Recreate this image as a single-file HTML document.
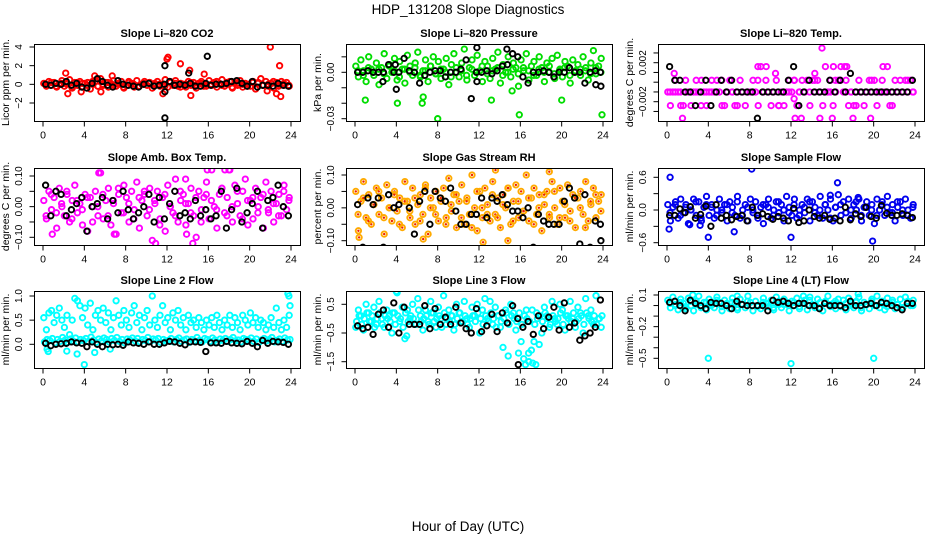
<!DOCTYPE html>
<html><head><meta charset="utf-8"><style>
html,body{margin:0;padding:0;background:#fff;}
svg{display:block;font-family:"Liberation Sans",Arial,sans-serif;}
</style></head><body>
<svg id="chart" width="936" height="540" viewBox="0 0 936 540" xmlns="http://www.w3.org/2000/svg">
<rect width="936" height="540" fill="#fff"/>
<text x="468" y="14" text-anchor="middle" font-size="13.5">HDP_131208  Slope Diagnostics</text>
<text x="468" y="531" text-anchor="middle" font-size="13.5">Hour of Day (UTC)</text>
</svg>
<script>
// ---- data ----
const xTicks = [0,4,8,12,16,20,24];

const co2Col = [.1,-.2,.3,-.1,.2,-.3,.0,.4,-.2,.1,.5,-.4,.2,-.1,.3,-.3,.1,.2,-.5,.0,.3,-.2,.6,-.1,.2,-.3,.1,.4,-.2,.0,.3,-.4,-.1,.2,.1,-.3,.4,-.2,.0,.3,-.1,.2,-.4,.1,.3,-.2,.0,.5,-.3,.2,-.1,.4,-.2,.1,.0,-.3,.3,-.1,.2,-.4,.1,.3,-.2,.0,.4,-.1,.2,-.3,.1,.5,-.2,.0,.3,-.4,.2,-.1,.4,-.3,.1,.0,-.2,.3,-.5,.2,.6,-.1,.3,-.2,.1,-.4,.2,.0,.3,-.1,.2,-.2];
const co2Band = [-.1,.2,-.2,.1,.0,-.3,.2,.1,-.1,.3,-.2,.0,.2,-.1,.1,-.3,.3,.0,-.2,.1,.2,-.1,.0,-.2,.3,.1,-.3,.0,.2,-.1,.1,-.2,.0,.3,-.1,.2,-.3,.1,.0,-.2,.2,.1,-.1,.0,.3,-.2,.1,-.1];
const co2Out = [[2.2,1.2],[2.4,-1],[12,2.7],[12.1,2.9],[13.3,2.2],[14.2,1.5],[14.3,-1.2],[15.6,1.1],[22,4],[22.9,2],[23,-1.3],[22.6,-1],[11.6,-1],[5,.9],[6.7,.9],[3.7,-.8],[5.6,-.8],[21.7,-.7]];
const co2Blk = [0,-.1,.1,.0,.3,-.1,.1,-.3,-.4,.1,.6,.3,-.1,-.3,.4,.0,-.1,-.2,-.3,.0,.1,-.2,-.1,.0,.3,-.1,.0,-.1,.1,-.2,-.2,.1,-.1,.0,.0,.1,.3,.4,.1,-.2,.3,-.3,-.1,-.1,-.2,.1,-.1,-.2];
const co2BlkOut = [[11.8,2],[11.8,-.8],[11.8,-3.6],[14.1,1.2],[15.9,3]];

const presCol = [.004,-.003,.008,.001,-.006,.010,.002,-.002,.006,-.008,.003,.012,-.004,.005,.000,.009,-.005,.007,.002,-.007,.011,.004,-.002,.006,.013,-.003,.001,.008,-.006,.004,.010,-.001,.007,-.004,.002,.009,-.008,.005,.012,.000,-.003,.006,.015,-.005,.003,.008,-.002,.011,.001,-.006,.007,.004,-.004,.009,.002,.013,-.007,.005,.000,.010,-.003,.006,.003,-.009,.008,.001,.012,-.005,.004,.007,-.002,.010,.003,-.006,.006,.000,.009,-.004,.011,.002,-.003,.007,.004,-.007,.008,.001,.005,-.002,.010,.003,-.005,.006,.014,-.001,.004,.009];
const presBand = [.001,-.002,.003,.000,.002,-.001,.004,.001,-.003,.002,.000,.003,-.002,.001,.004,-.001,.002,.000,-.003,.003,.001,-.002,.002,.000,.004,-.001,.001,.003,-.002,.000,.002,-.001,.003,.001,-.002,.002,.000,.004,-.001,.001,.003,-.002,.000,.002,.001,-.001,.003,.000];
const presOut = [[1,-.018],[4.1,-.020],[8,-.03],[11,.024],[15.9,-.0275],[23.9,-.0275],[6.6,-.016],[6.5,-.02],[13.2,-.018],[20,-.018],[22.7,.021],[17.3,.020],[15.2,-.012]];
const presBlk = [0,0,.001,0,0,0,.005,0,0,.009,.001,0,-.007,-.002,0,.001,.001,-.003,0,0,.002,.008,-.017,0,0,.001,-.001,.001,.004,.005,.012,.01,-.003,-.007,0,0,.001,0,-.003,0,0,.003,0,0,-.007,0,.001,0];
const presBlkOut = [[4,-.011],[2.7,-.006],[11.8,-.006],[23.3,-.008],[23.8,-.009],[3.9,.005],[14.7,.015],[11.8,.016]];

const tempCol = [-.001,-.0024,-.001,.0002,-.001,-.0024,-.0024,-.001,-.001,-.0024,-.001,.0002,-.001,.0002,-.001,-.0024,-.001,.0002,-.001,.0002,-.001,-.0024,-.0024,-.001,.0002,-.001,-.0024,-.001,.0002,-.001,-.0024,-.001,-.001,.0002,-.001,-.0024,.0016,-.001,.0002,-.001,-.0024,-.001,.0002,-.0024,-.001,-.0024,-.001,.0002,-.001,.0002,-.0024,-.001,.0002,-.001,.0002,-.0024,.0002,-.001,.0002,-.001,-.0024,.0016,-.001,.0002,-.0024,-.001,.0002,.0016,-.001,.0002,-.0024,-.001,-.0024,-.001,.0002,-.001,-.0024,-.001,.0002,-.001,.0002,-.0024,-.001,.0002,-.001,.0016,-.0024,-.001,.0002,-.001,.0002,-.001,.0002,-.001,.0002,-.001];
const tempBand = [-.001,-.001,-.001,.0002,-.001,-.001,-.0024,-.001,-.001,-.001,.0002,-.001,-.001,-.0024,-.001,-.001,-.001,.0002,-.001,-.001,-.001,-.0024,-.001,-.001,.0002,-.001,-.001,-.001,.0002,-.001,-.001,-.001,.0002,.0002,-.001,-.001,-.0024,-.001,-.001,.0002,-.001,-.001,-.001,-.0024,-.001,-.001,.0002,-.001];
const tempOut = [[15,.0035],[1.5,-.0037],[12.4,-.0037],[13,-.0037],[14.8,-.0037],[16,-.0037],[18,-.0037],[19.7,-.0037],[8.8,.0016],[9.6,.0016],[17.2,.0016],[17.4,.0016],[20.9,.0016],[16.1,.0016],[0.7,.0009],[10.5,.0009],[14.3,.0009],[12.3,-.0017]];
const tempBlk = [.0016,.0002,.0002,-.001,-.001,-.0024,-.001,.0002,-.0024,-.001,.0002,-.001,.0002,-.001,-.001,-.001,-.001,-.0037,-.001,-.001,-.001,-.001,-.001,.0002,.0016,-.0024,-.001,.0002,-.001,-.001,-.001,.0002,-.001,.0002,-.001,.0009,-.001,-.001,-.001,-.001,-.001,-.001,-.001,-.001,-.001,-.001,-.001,.0002];
const tempBlkOut = [];

const ambCol = [.02,-.04,.05,-.01,.03,-.07,.06,.00,-.03,.04,-.05,.02,.07,-.02,.01,-.06,.04,-.08,.03,.00,.05,-.03,.11,-.04,.02,.06,-.06,.01,-.09,.04,-.02,.07,.03,-.05,.05,-.01,.08,-.07,.02,.04,-.03,.06,-.11,.01,.05,-.04,.03,-.08,.07,.00,-.02,.09,-.05,.02,.04,-.06,.01,.06,-.03,-.10,.05,-.01,.03,.08,-.04,.12,.00,-.07,.04,.06,-.02,.03,.12,-.05,.07,.01,-.03,.05,.09,-.06,.02,-.04,.06,.00,.03,-.07,.08,-.02,.05,-.05,.01,.04,-.03,.07,-.01,.03];
const ambBand = [-.03,.04,-.02,.01,.05,-.04,.02,-.01,.03,-.05,.00,.04,-.03,.02,.06,-.02,.01,-.04,.03,.05,-.01,.02,-.06,.04,.00,-.03,.05,.01,-.02,.03,-.05,.04,.02,-.01,.06,-.03,.00,.05,-.04,.02,.03,-.02,.04,-.01,.01,-.03,.05,.02];
const ambOut = [[5.4,.11],[0.9,-.09],[10.9,-.12],[14.5,-.12],[15.9,.12],[17.6,.12],[18,.12],[13.8,.09],[13.9,-.09],[6.9,-.09]];
const ambBlk = [.07,-.03,.05,.04,-.03,-.01,.01,.03,-.08,.00,.01,.03,-.04,.02,-.02,.05,-.01,-.04,-.02,.00,.04,-.05,.03,-.04,.01,.05,-.03,-.02,-.04,.02,-.03,-.01,-.04,-.03,.05,-.07,-.01,.06,-.05,-.02,.01,.05,-.07,.02,.03,.07,.00,-.03];
const ambBlkOut = [];

const rhCol = [.05,-.07,.02,.08,-.03,.04,-.05,.01,.06,-.02,.03,-.08,.07,.00,-.04,.05,-.01,.03,-.06,.08,.02,-.03,.06,-.05,.01,.04,-.02,.07,-.08,.03,.00,.05,-.04,.02,.06,-.03,.09,-.01,.04,-.06,.02,.07,-.05,.03,-.02,.10,.00,-.07,.05,-.03,.06,.01,-.04,.08,-.02,.03,-.06,.04,.00,.06,-.05,.02,.07,-.03,.05,-.01,.10,-.04,.03,.06,-.02,.04,-.07,.01,.05,-.03,.08,.00,-.05,.06,.02,-.03,.07,-.01,.04,-.06,.03,.05,-.02,.08,-.04,.01,.06,-.03,.02,.04];
const rhBand = [-.02,.03,-.04,.01,.05,-.03,.00,.04,-.05,.02,-.01,.03,-.04,.06,.00,-.02,.03,-.05,.01,.04,-.03,.02,-.06,.05,.00,-.02,.04,-.03,.01,.06,-.04,.02,-.01,.03,-.05,.00,.04,-.02,.05,-.03,.01,-.04,.03,.00,-.06,.02,.04,-.01];
const rhOut = [[13.6,.115],[18.8,.11],[12.4,-.105],[14.8,-.1],[0.4,-.09],[6.6,-.095]];
const rhBlk = [.01,-.12,.03,.01,.03,-.12,.04,.00,.01,-.14,.00,-.08,.02,.05,-.05,.05,.03,.02,.06,-.01,-.05,-.05,-.02,-.02,.03,-.03,.03,.02,.04,.01,-.01,-.01,-.03,.00,-.12,-.02,-.04,-.05,-.05,-.05,.02,.06,.03,-.11,.04,-.12,-.04,-.05];
const rhBlkOut = [[23.8,-.14],[23.8,-.1]];

const sampCol = [.1,-.2,.05,.15,-.15,.2,-.05,.1,-.25,.0,.2,-.1,.15,-.2,.05,.25,-.1,.1,-.15,.0,.2,-.05,.1,-.2,.15,.05,-.1,.25,-.15,.0,.1,-.2,.2,-.05,.15,-.1,.05,-.25,.1,.2,-.15,.0,.15,-.05,.1,-.2,.25,.05,-.1,.2,-.15,.0,.1,-.05,.2,-.2,.15,.05,-.1,.25,-.15,.1,.0,.2,-.2,.05,.28,-.1,.15,-.05,.2,-.15,.1,.0,.2,-.2,.05,.15,-.1,.1,-.25,.2,.0,.15,-.1,.25,-.05,.1,-.2,.05,.15,-.1,.2,.0,-.15,.1];
const sampBand = [-.05,.1,-.1,.05,.0,.15,-.15,.1,.05,-.1,.0,.1,-.05,.15,-.1,.05,.0,-.15,.1,.05,-.1,.15,.0,-.05,.1,-.1,.05,.15,-.05,.0,.1,-.15,.05,.1,-.05,.0,.15,-.1,.05,.0,-.1,.1,.05,-.05,.15,.0,-.1,.05];
const sampOut = [[0.2,-.35],[0.3,.6],[8.2,.75],[16.5,.5],[4,-.5],[12,-.5],[19.9,-.57],[6.5,-.4],[3.2,-.28],[2.2,-.27],[18.5,.23],[15.8,.27]];
const sampBlk = [-.1,-.1,.02,-.05,.06,-.15,-.08,.07,-.3,.1,-.15,-.1,-.18,-.12,-.1,-.2,.05,-.1,-.07,-.12,-.17,-.12,-.15,-.2,.03,-.23,-.2,.0,-.12,-.15,-.1,-.17,-.15,-.2,.05,-.18,-.07,-.12,.05,-.12,-.15,.08,-.06,-.1,-.1,-.07,-.1,-.14];
const sampBlkOut = [];

const l2Col = [.55,.3,.65,.7,.45,.6,.75,.5,.35,.6,.2,.5,.95,.9,.8,.55,.75,.4,.85,.3,.6,.7,.5,.75,.45,.65,.3,.55,.9,.6,.4,.7,.5,.35,.65,.8,.45,.6,.3,.55,.7,.4,1.0,.5,.35,.6,.8,.45,.55,.3,.65,.5,.7,.4,.55,.3,.6,.45,.5,.35,.55,.45,.3,.5,.4,.55,.35,.6,.45,.3,.5,.4,.6,.35,.55,.45,.3,.6,.5,.4,.65,.45,.55,.35,.5,.45,.3,.4,.55,.35,.75,.45,.3,.5,.35,.6];
const l2Band = [.05,.1,.08,.12,.03,.1,.06,.14,.09,.04,.11,.07,.13,.05,.1,.08,.12,.06,.15,.09,.04,.11,.07,.13,.1,.05,.12,.08,.14,.06,.1,.03,.11,.09,.13,.07,.12,.05,.1,.08,.14,.06,.11,.09,.12,.04,.1,.07,.08,.12,.05,.1,.13,.06,.09,.11,.04,.1,.07,.14,.08,.05,.12,.1,.06,.13,.09,.04,.11,.08,.12,.06,.1,.14,.07,.09,.05,.12,.1,.08,.13,.06,.11,.04,.09,.12,.07,.1,.14,.05,.08,.11,.06,.13,.09,.1];
const l2Out = [[0.4,-.1],[0.5,-.15],[2.3,-.14],[3.3,-.2],[4.0,-.42],[5,-.17],[6.5,-.1],[23.7,1.05],[23.8,1.0],[23.9,.8]];
const l2Blk = [.02,-.03,.0,.01,.02,.05,.03,.02,-.05,.05,.0,-.05,.0,-.01,.0,-.02,.05,.03,.02,.0,.05,.0,.0,.03,.06,.05,.02,-.01,.05,.05,.04,-.15,.03,.03,.02,.06,.03,.02,.01,.06,.02,-.05,.08,.02,.06,.05,.04,.0];
const l2BlkOut = [];

const l3Col = [-.3,.3,.1,-.4,.5,.2,-.1,.4,-.2,.6,.0,-.3,.3,.1,-.5,.2,.9,-.1,.4,-.7,.3,.0,.5,-.2,.7,.1,-.4,.3,-.1,.6,.2,-.3,.4,.0,.8,-.2,.3,.1,-.4,.5,.2,-.1,.6,.0,-.3,.4,.1,.5,-.5,.3,.7,.0,.6,-.2,.4,.1,-.3,-1.0,.3,-1.3,.5,.2,-.4,-1.2,-.8,-1.4,.3,-1.5,-1.1,-.8,.2,-.9,-.5,.4,.1,-.3,.6,.0,-.2,.5,.3,-.4,.1,.6,.0,-.3,.4,.2,-.5,.7,.1,.3,-.2,.8,.0,-.3];
const l3Band = [-.1,.1,-.2,.0,.2,-.1,.1,-.3,.0,.2,-.2,.1,.0,-.1,.2,-.2,.1,.0,-.3,.2,-.1,.1,.0,-.2,.3,-.1,.0,.1,-.2,.2,-.1,.0,.1,-.3,.2,.0,-.1,.1,-.2,.0,.2,-.1,.1,-.2,.0,.1,-.1,.2,.0,-.2,.1,-.1,.2,.0,-.3,.1,-.1,.0,.2,-.2,.1,.0,-.1,.2,-.2,.1,.0,-.1,.3,-.2,.0,.1,-.1,.2,.0,-.2,.1,-.1,.0,.2,-.2,.1,.0,-.1,.2,-.1,.0,.1,-.2,.2,.0,-.1,.1,-.2,.0,.1];
const l3Out = [[4,.95],[5,-.6],[16.5,-1.6],[17.2,-1.55],[16.8,-1.2],[17.5,-1.6]];
const l3Blk = [-.25,-.35,-.3,-.55,.15,.3,-.3,.55,-.5,.4,-.2,-.2,-.2,.45,-.35,.35,-.2,.05,-.2,.4,-.15,-.35,-.5,.35,-.45,-.25,.15,-.45,.2,-.15,.45,.0,-.3,-.1,-.55,.1,-.35,.05,.4,-.4,.55,-.3,-.15,-.75,-.6,-.5,-.3,.65];
const l3BlkOut = [[15.8,-1.6]];

const l4Col = [.05,-.02,.08,.01,-.04,.06,.02,-.03,.07,.0,-.05,.04,.09,-.01,.03,-.04,.06,.01,-.02,.08,.03,-.05,.05,.0,-.03,.07,.02,-.04,.06,.01,-.02,.09,.03,-.05,.04,.0,-.03,.07,.02,-.01,.05,-.04,.08,.01,-.02,.06,.03,-.05,.04,.0,.07,-.03,.02,.05,-.04,.08,.01,-.02,.06,.03,-.05,.04,.09,-.01,.02,-.03,.06,.0,.05,-.04,.07,.02,-.02,.04,.08,-.05,.03,.01,-.03,.06,.0,.09,-.02,.04,-.04,.07,.02,.05,-.03,.01,.06,-.02,.08,.03,.0,.05];
const l4Band = [.02,.0,.03,-.01,.04,.01,-.02,.03,.0,.05,-.01,.02,.03,-.02,.01,.04,.0,-.01,.03,.02,-.02,.04,.01,.0,.03,-.01,.02,.05,.0,-.02,.03,.01,.04,-.01,.02,.0,.03,-.02,.01,.04,.0,.02,-.01,.03,.01,-.02,.04,.0];
const l4Out = [[4,-.5],[12,-.55],[20,-.5],[2.5,.1],[13.2,.09],[18.5,.11],[6.8,.09]];
const l4Blk = [.03,.04,.0,-.05,.05,.02,.0,-.03,.03,.02,.02,.0,-.03,.04,.01,.0,.0,.0,.0,-.05,.05,.03,.04,.02,.0,.02,.02,.0,.0,-.03,.02,.0,.0,.0,-.02,.04,.0,.0,.01,.02,.0,.03,.02,.0,-.02,-.04,.02,.02];
const l4BlkOut = [];

// ---- panel configuration ----
const panels = [
 {name:'co2',title:'Slope Li\u2013820 CO2',ylab:'Licor ppm per min.',col:0,row:0,color:'#ff0000',
  cal:[4,47,-2,103],ticks:[-2,0,2,4],labels:[-2,0,2,4],fmt:v=>v<0?'\u2212'+(-v):''+v,
  c:co2Col,b:co2Band,o:co2Out,k:co2Blk,ko:co2BlkOut},
 {name:'pressure',title:'Slope Li\u2013820 Pressure',ylab:'kPa per min.',col:1,row:0,color:'#00dd00',
  cal:[0,72.3,-0.03,118.7],ticks:[0.01,0,-0.01,-0.02,-0.03],labels:[0,-0.03],fmt:v=>fmt(v,2),
  c:presCol,b:presBand,o:presOut,k:presBlk,ko:presBlkOut},
 {name:'li820-temp',title:'Slope Li\u2013820 Temp.',ylab:'degrees C per min.',col:2,row:0,color:'#ff00ff',
  cal:[0.002,62.7,-0.002,101.7],ticks:[-0.003,-0.002,-0.001,0,0.001,0.002,0.003],labels:[-0.002,0.002],fmt:v=>fmt(v,3),
  c:tempCol,b:tempBand,o:tempOut,k:tempBlk,ko:tempBlkOut},
 {name:'amb-box-temp',title:'Slope Amb. Box Temp.',ylab:'degrees C per min.',col:0,row:1,color:'#ff00ff',
  cal:[0.1,176,-0.1,237.3],ticks:[-0.1,-0.05,0,0.05,0.1],labels:[-0.1,0,0.1],fmt:v=>fmt(v,2),
  c:ambCol,b:ambBand,o:ambOut,k:ambBlk,ko:ambBlkOut},
 {name:'gas-stream-rh',title:'Slope Gas Stream RH',ylab:'percent per min.',col:1,row:1,color:'#ffaa00',inner:'#ee2200',
  cal:[0.1,175,-0.1,240.7],ticks:[-0.1,-0.05,0,0.05,0.1],labels:[-0.1,0,0.1],fmt:v=>fmt(v,2),
  c:rhCol,b:rhBand,o:rhOut,k:rhBlk,ko:rhBlkOut},
 {name:'sample-flow',title:'Slope Sample Flow',ylab:'ml/min per min.',col:2,row:1,color:'#0000ee',
  cal:[0.6,177.3,-0.6,242.7],ticks:[-0.6,-0.3,0,0.3,0.6],labels:[-0.6,0,0.6],fmt:v=>fmt(v,1),
  c:sampCol,b:sampBand,o:sampOut,k:sampBlk,ko:sampBlkOut},
 {name:'line2-flow',title:'Slope Line 2 Flow',ylab:'ml/min per min.',col:0,row:2,color:'#00ffff',
  cal:[1.0,296,0,344.3],ticks:[0,0.5,1.0],labels:[0,0.5,1.0],fmt:v=>fmt(v,1),
  c:l2Col,b:l2Band,o:l2Out,k:l2Blk,ko:l2BlkOut},
 {name:'line3-flow',title:'Slope Line 3 Flow',ylab:'ml/min per min.',col:1,row:2,color:'#00ffff',
  cal:[0.5,304.3,-1.5,361.7],ticks:[0.5,-0.5,-1.5],labels:[0.5,-0.5,-1.5],fmt:v=>fmt(v,1),
  c:l3Col,b:l3Band,o:l3Out,k:l3Blk,ko:l3BlkOut},
 {name:'line4-flow',title:'Slope Line 4 (LT) Flow',ylab:'ml/min per min.',col:2,row:2,color:'#00ffff',
  cal:[0.1,295,-0.5,358.3],ticks:[0.1,0,-0.1,-0.2,-0.3,-0.4,-0.5],labels:[0.1,-0.2,-0.5],fmt:v=>fmt(v,1),
  c:l4Col,b:l4Band,o:l4Out,k:l4Blk,ko:l4BlkOut}
];
function fmt(v,d){const s=Math.abs(v).toFixed(d);return (v<-1e-12?'\u2212':'')+s;}

const NS='http://www.w3.org/2000/svg';
const svg=document.getElementById('chart');
function mk(tag,attrs,parent){const e=document.createElementNS(NS,tag);for(const k in attrs)e.setAttribute(k,attrs[k]);parent.appendChild(e);return e;}

const BOXL=[34,346,658], BOXT=[44,168,291], BW=266, BH=77;
panels.forEach(p=>{
  const g=mk('g',{},svg);
  
  
  const bx=BOXL[p.col], by=BOXT[p.row];
  const x0=bx+9, xs=248/24;
  const xScale=h=>x0+h*xs;
  const [v1,p1,v2,p2]=p.cal;
  const yScale=v=>p1+(v-v1)*(p2-p1)/(v2-v1);
  const clip='clip-'+p.name;
  const cp=mk('clipPath',{id:clip},g);
  mk('rect',{x:bx,y:by,width:BW,height:BH},cp);
  const t=mk('text',{x:bx+BW/2,y:by-7,'text-anchor':'middle','font-size':11,'font-weight':'bold'},g);
  t.textContent=p.title;
  
  
  const pts=mk('g',{'clip-path':'url(#'+clip+')',fill:'none','stroke-width':1.9},g);
  
  
  function dot(h,v,color){
    const c=mk('circle',{cx:xScale(h).toFixed(1),cy:yScale(v).toFixed(1),r:2.7,stroke:color},pts);
    
    
    if(p.inner&&color!=='#000'){mk('circle',{cx:xScale(h).toFixed(1),cy:yScale(v).toFixed(1),r:1.2,fill:p.inner,stroke:'none'},pts);}
  }
  p.c.forEach((v,i)=>dot((i+0.3)*24/p.c.length,v,p.color));
  p.b.forEach((v,i)=>dot((i+0.6)*24/p.b.length,v,p.color));
  p.o.forEach(d=>dot(d[0],d[1],p.color));
  p.k.forEach((v,i)=>dot((i+0.5)*24/p.k.length,v,'#000'));
  p.ko.forEach(d=>dot(d[0],d[1],'#000'));
  const box=mk('rect',{x:bx+.5,y:by+.5,width:BW,height:BH,fill:'none',stroke:'#000','stroke-width':1},g);
  
  
  const xa=mk('g',{stroke:'#000','stroke-width':1},g);
  
  
  const yb=by+BH+0.5;
  mk('line',{x1:xScale(0),x2:xScale(24),y1:yb,y2:yb},xa);
  xTicks.forEach(h=>{
    mk('line',{x1:xScale(h),x2:xScale(h),y1:yb,y2:yb+5},xa);
    const tl=mk('text',{x:xScale(h),y:yb+17,'text-anchor':'middle','font-size':10.5,stroke:'none'},xa);
    tl.textContent=h;
  });
  const ya=mk('g',{stroke:'#000','stroke-width':1},g);
  
  
  const xl=bx+0.5;
  const tys=p.ticks.map(yScale);
  mk('line',{x1:xl,x2:xl,y1:Math.min(...tys),y2:Math.max(...tys)},ya);
  p.ticks.forEach(v=>{const y=yScale(v);mk('line',{x1:xl-5,x2:xl,y1:y,y2:y},ya);});
  p.labels.forEach(v=>{
    const y=yScale(v), x=bx-12;
    const tl=mk('text',{x:x,y:y,'text-anchor':'middle','font-size':10,stroke:'none',transform:`rotate(-90 ${x} ${y})`},ya);
    tl.textContent=p.fmt(v);
  });
  const yt=mk('text',{x:bx-25,y:by+BH/2,'text-anchor':'middle','font-size':10.5,transform:`rotate(-90 ${bx-25} ${by+BH/2})`},g);
  yt.textContent=p.ylab;
  
  
});
</script>
</body></html>
